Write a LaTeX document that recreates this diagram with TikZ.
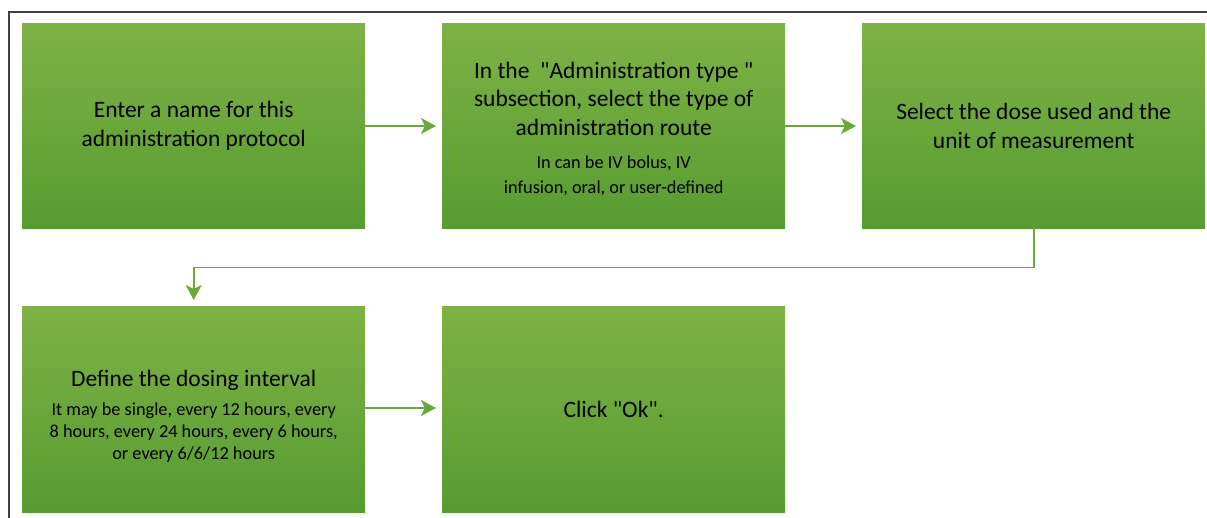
\documentclass[tikz,border=0pt]{standalone}
\usepackage{fontspec}
\setmainfont{Carlito}
\usetikzlibrary{arrows.meta}
\definecolor{boxtop}{RGB}{126,178,69}
\definecolor{boxbot}{RGB}{87,156,49}
\definecolor{linkgreen}{RGB}{106,168,58}
\definecolor{framegray}{RGB}{64,64,64}
\newcommand{\bigtxt}{\fontsize{23.5}{28.5}\selectfont}
\newcommand{\smalltxt}{\fontsize{18.3}{22}\selectfont}
\begin{document}
\begin{tikzpicture}[x=1pt,y=-1pt,
  stepbox/.style={anchor=north west,minimum width=343pt,minimum height=205pt,
    inner sep=0pt,text width=335pt,align=flush center,top color=boxtop,bottom color=boxbot,
    font=\bigtxt},
  link/.style={draw=linkgreen,line width=1.8pt,-{Stealth[length=15pt,width=16pt,inset=4pt]},shorten >=6pt}]
\useasboundingbox (0,0) rectangle (1207,517);
\draw [framegray,line width=1.5pt] (9,12) rectangle (1220,530);
\node [stepbox] (name) at (22,23) {Enter a name for this\\administration protocol};
\node [stepbox] (route) at (442,23) {\rule{0pt}{23pt}In the~~\textquotedbl Administration type~\textquotedbl\\subsection, select the type of\\administration route\par\vspace{11.5pt}{\smalltxt In can be IV bolus, IV\\[3pt]infusion, oral, or user-defined\par}};
\node [stepbox] (dose) at (862,23) {Select the dose used and the\\unit of measurement};
\node [stepbox,minimum height=206pt] (interval) at (22,306) {\rule{0pt}{31pt}Define the dosing interval\par\vspace{7pt}{\smalltxt It may be single, every 12 hours, every\\8 hours, every 24 hours, every 6 hours,\\or every 6/6/12 hours\par}};
\node [stepbox,minimum height=206pt] (ok) at (442,306) {Click \textquotedbl Ok\textquotedbl.};
\draw [link] (name.east |- 0,126) -- (route.west |- 0,126);
\draw [link] (route.east |- 0,126) -- (dose.west |- 0,126);
\draw [link] (dose.south) -- ++(0,39) -| (interval.north);
\draw [link] (interval.east |- 0,408) -- (ok.west |- 0,408);
\end{tikzpicture}
\end{document}
